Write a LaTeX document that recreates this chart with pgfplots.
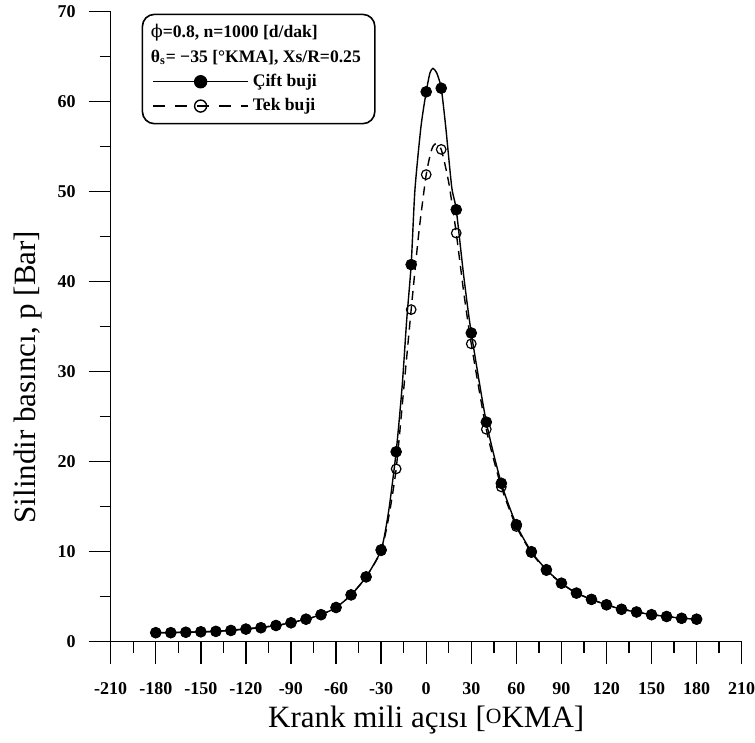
\documentclass[border=0pt]{standalone}
\usepackage{fontspec}
\setmainfont{Liberation Serif}
\newfontfamily\dejavu{DejaVu Serif}
\usepackage{pgfplots}
\pgfplotsset{compat=1.18}
\usepackage{pgfplotstable}

% Cift buji: markers every 10 deg
\pgfplotstableread{
x y
-180 1.0
-170 1.0
-160 1.05
-150 1.1
-140 1.15
-130 1.25
-120 1.4
-110 1.55
-100 1.8
-90 2.1
-80 2.5
-70 3.0
-60 3.8
-50 5.2
-40 7.2
-30 10.2
-20 21.1
-10 41.9
0 61.1
10 61.5
20 48.0
30 34.3
40 24.4
50 17.6
60 13.0
70 10.0
80 8.0
90 6.5
100 5.4
110 4.7
120 4.1
130 3.6
140 3.3
150 3.0
160 2.8
170 2.6
180 2.5
}\cift

% Cift buji: curve, with extra readings near the peak
\pgfplotstableread{
x y
-180 1.0
-170 1.0
-160 1.05
-150 1.1
-140 1.15
-130 1.25
-120 1.4
-110 1.55
-100 1.8
-90 2.1
-80 2.5
-70 3.0
-60 3.8
-50 5.2
-40 7.2
-30 10.2
-25 14.5
-20 21.1
-16 28.4
-13 35.7
-10 41.9
-7.5 50.2
-3.5 57.2
0 61.1
2.5 63.2
4.5 63.7
7 63.2
10 61.5
13 57.2
17 50.5
20 48.0
25 40.6
30 34.3
40 24.4
50 17.6
60 13.0
70 10.0
80 8.0
90 6.5
100 5.4
110 4.7
120 4.1
130 3.6
140 3.3
150 3.0
160 2.8
170 2.6
180 2.5
}\ciftline

% Tek buji: markers every 10 deg
\pgfplotstableread{
x y
-180 1.0
-170 1.0
-160 1.05
-150 1.1
-140 1.15
-130 1.25
-120 1.4
-110 1.55
-100 1.8
-90 2.1
-80 2.5
-70 3.0
-60 3.8
-50 5.2
-40 7.2
-30 10.1
-20 19.2
-10 36.9
0 51.9
10 54.7
20 45.4
30 33.1
40 23.6
50 17.2
60 12.8
70 9.9
80 7.9
90 6.5
100 5.4
110 4.7
120 4.1
130 3.6
140 3.3
150 3.0
160 2.8
170 2.6
180 2.5
}\tek

% Tek buji: curve
\pgfplotstableread{
x y
-180 1.0
-140 1.15
-100 1.8
-80 2.5
-70 3.0
-60 3.8
-50 5.2
-40 7.2
-30 10.1
-25 13.8
-20 19.2
-15 28.0
-10 36.9
-5 45.3
0 51.9
3.5 54.6
6 55.3
10 54.7
15 51.0
20 45.4
25 38.8
30 33.1
40 23.6
50 17.2
60 12.8
70 9.9
80 7.9
90 6.5
100 5.4
120 4.1
140 3.3
160 2.8
180 2.5
}\tekline

\begin{document}
\begin{tikzpicture}
\begin{axis}[
    scale only axis,
    width=315.5pt, height=315pt,
    xmin=-210, xmax=210, ymin=0, ymax=70,
    axis x line=bottom, axis y line=left,
    axis line style={-, line width=0.7pt},
    xtick={-210,-180,-150,-120,-90,-60,-30,0,30,60,90,120,150,180,210},
    xticklabels={-210,-180,-150,-120,-90,-60,-30,0,30,60,90,120,150,180,210},
    ytick={0,10,20,30,40,50,60,70},
    yticklabels={0,10,20,30,40,50,60,70},
    minor x tick num=1, minor y tick num=1,
    tick align=outside,
    major tick length=11pt, minor tick length=5.5pt,
    tick style={black, line width=0.7pt},
    tick label style={font=\fontsize{9}{10}\selectfont\bfseries},
    xticklabel style={yshift=-6pt},
    yticklabel style={xshift=-3pt},
    xlabel={Krank mili açısı [\raisebox{0.28ex}{\scalebox{0.7}{O}}KMA]},
    ylabel={Silindir basıncı, p [Bar]},
    every axis x label/.style={at={(rel axis cs:0.5,0)}, anchor=center,
        yshift=-39pt, font=\fontsize{15.5}{17}\selectfont},
    ylabel style={at={(axis description cs:-0.131,0.42)}, anchor=center,
        font=\fontsize{15.5}{17}\selectfont},
    legend cell align=left,
    legend style={at={(rel axis cs:0.049,0.997)}, anchor=north west,
        draw=black, line width=0.8pt, rounded corners=6pt,
        font=\fontsize{8.8}{10}\selectfont\bfseries,
        inner xsep=5pt, inner ysep=3pt, row sep=0.5pt},
    legend image code/.code={\draw[mark repeat=2,mark phase=2,#1]
        plot coordinates {(0pt,0pt) (23.75pt,0pt) (47.5pt,0pt)};},
]
\addlegendimage{empty legend}
\addlegendentry{\hspace*{-51pt}{\dejavu\mdseries ϕ}=0.8, n=1000 [d/dak]}
\addlegendimage{empty legend}
\addlegendentry{\hspace*{-51pt}θ\textsubscript{s}= −35 [°KMA], Xs/R=0.25}
\addlegendimage{black, line width=0.7pt, solid, mark=*, mark size=3pt, rounded corners=0pt}
\addlegendentry{Çift buji}
\addlegendimage{black, line width=0.7pt, dash pattern=on 6pt off 5pt, dash phase=0pt, mark=o, mark size=3pt, mark options={solid}, rounded corners=0pt}
\addlegendentry{Tek buji}

\addplot[black, line width=0.7pt, dash pattern=on 4.5pt off 3pt, smooth, tension=0.4, forget plot] table[x=x,y=y] {\tekline};
\addplot[black, only marks, mark=o, mark size=2.4pt, line width=0.6pt, forget plot] table[x=x,y=y] {\tek};
\addplot[black, line width=0.7pt, smooth, tension=0.4, forget plot] table[x=x,y=y] {\ciftline};
\addplot[black, only marks, mark=*, mark size=2.7pt, forget plot] table[x=x,y=y] {\cift};
\coordinate (O) at (rel axis cs:0,0);
\end{axis}
\pgfresetboundingbox
\path[use as bounding box] (O) ++(-55.35pt,-50.65pt) rectangle ++(377.5pt,371.5pt);
\end{tikzpicture}
\end{document}
